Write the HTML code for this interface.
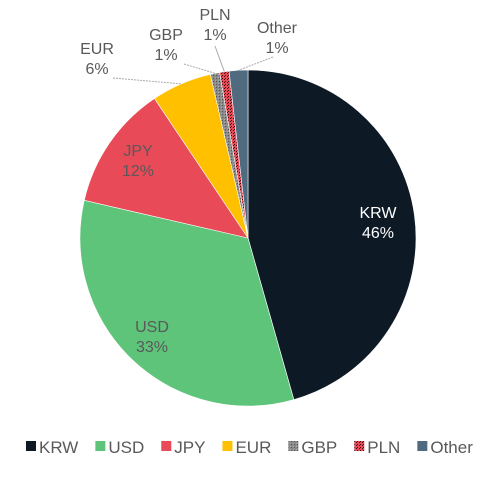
<!DOCTYPE html>
<html><head><meta charset="utf-8"><style>
body{margin:0;background:#fff;font-family:"Liberation Sans",sans-serif}
</style></head><body>
<svg width="502" height="487" font-family="Liberation Sans, sans-serif">
<defs>
<pattern id="pgbp" width="3" height="3" patternUnits="userSpaceOnUse"><rect width="3" height="3" fill="#8a8a8a"/><rect width="1" height="1" fill="#555"/><rect x="2" y="2" width="1" height="1" fill="#aaa"/></pattern>
<pattern id="ppln" width="3" height="3" patternUnits="userSpaceOnUse"><rect width="3" height="3" fill="#e84a58"/><rect width="1" height="1" fill="#3a0a10"/><rect x="2" y="1" width="1" height="1" fill="#3a0a10"/></pattern>
</defs>
<g id="slices"></g>
<g id="labels" font-size="16"></g>
<g id="legend" font-size="17"></g>
</svg>
<script>
const categories=["KRW","USD","JPY","EUR","GBP","PLN","Other"];
const values=[45.6,33.0,12.0,5.8,0.9,0.9,1.8];
const labelTexts=["46%","33%","12%","6%","1%","1%","1%"];
const colors=["#0d1a26","#5ec47a","#e84a58","#ffc000","url(#pgbp)","url(#ppln)","#506a80"];
const legendColors=["#0d1a26","#5ec47a","#e84a58","#ffc000","url(#pgbp)","url(#ppln)","#506a80"];
const NS="http://www.w3.org/2000/svg";
const cx=248,cy=238,r=168;
const total=values.reduce((a,b)=>a+b,0);
const sg=document.getElementById('slices'),lg=document.getElementById('labels'),leg=document.getElementById('legend');
function pt(a,rr){return [cx+rr*Math.sin(a),cy-rr*Math.cos(a)];}
function mk(t,attrs,parent){const e=document.createElementNS(NS,t);for(const k in attrs)e.setAttribute(k,attrs[k]);parent.appendChild(e);return e;}
const outsidePos={3:[97,54],4:[166,40],5:[215,20],6:[277,33]};
const insidePos={0:[378,218],1:[152,332],2:[138,156]};
let a0=0;
values.forEach((v,i)=>{
  const a1=a0+v/total*2*Math.PI;
  const p0=pt(a0,r),p1=pt(a1,r);
  const large=(a1-a0)>Math.PI?1:0;
  const p=mk('path',{d:`M${cx},${cy}L${p0[0]},${p0[1]}A${r},${r} 0 ${large} 1 ${p1[0]},${p1[1]}Z`,fill:colors[i],stroke:'#fff','stroke-width':0.6},sg);
  
  
  const mid=(a0+a1)/2;
  let tx,ty,fill='#595959';
  if(outsidePos[i]){
    [tx,ty]=outsidePos[i];
    const e=pt(mid,r);
    const ln=mk('polyline',{points:`${tx+(i==6?-4:i==3?16:i==4?18:0)},${ty+(i==5?26:24)} ${e[0]},${e[1]}`,fill:'none',stroke:'#aaa','stroke-width':1,'stroke-dasharray':i==5?'none':'2,1'},lg);
    
    
  } else {
    [tx,ty]=insidePos[i];
    if(i==0)fill='#fff';
  }
  const t=mk('text',{x:tx,y:ty,'text-anchor':'middle',fill:fill},lg);
  
  
  mk('tspan',{x:tx,dy:0},t).textContent=categories[i];
  mk('tspan',{x:tx,dy:20},t).textContent=labelTexts[i];
  a0=a1;
});
let x=26;
categories.forEach((c,i)=>{
  const g=mk('g',{},leg);
  
  
  mk('rect',{x:x,y:441,width:10,height:10,fill:legendColors[i]},g);
  const t=mk('text',{x:x+13,y:453,fill:'#595959'},g);
  t.textContent=c;
  x+=13+t.getComputedTextLength()+17;
});
</script>
</body></html>
